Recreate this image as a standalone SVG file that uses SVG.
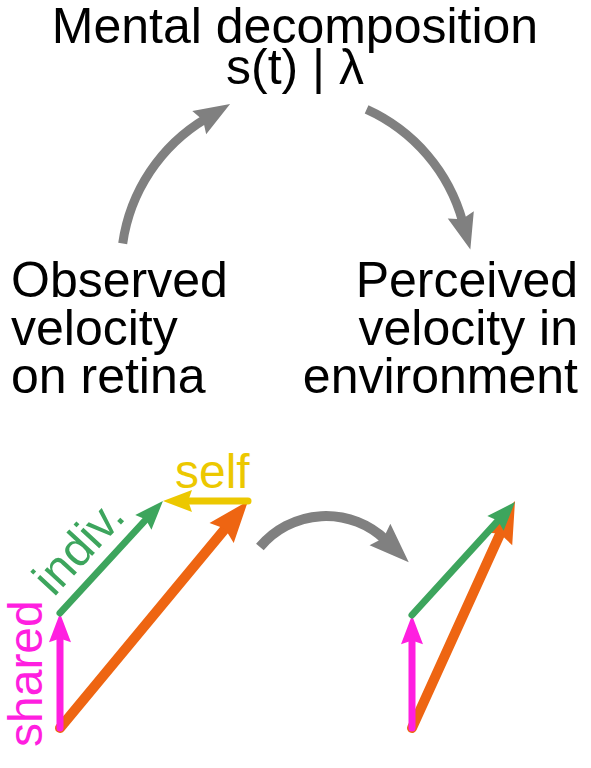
<svg xmlns="http://www.w3.org/2000/svg" width="591" height="768" viewBox="0 0 591 768">
  <style>
    text { font-family: "Liberation Sans", Arial, sans-serif; }
    .lbl { font-size: 50px; fill: #000; }
    .title { font-size: 50px; fill: #000; }
    .flow { fill: none; stroke: #808080; stroke-linecap: butt; marker-end: url(#hG); }
    .vec { fill: none; stroke-linecap: round; stroke-width: 7; }
    .mag { stroke: #ff1fe0; marker-end: url(#hM); }
    .grn { stroke: #3da55d; marker-end: url(#hGr); }
    .yel { stroke: #ecc800; marker-end: url(#hY); }
    .org { stroke: #ee6512; stroke-width: 10; marker-end: url(#hO); }
  </style>
  <defs>
    <marker id="hG" orient="auto" refX="0" refY="0" markerWidth="10" markerHeight="10" overflow="visible">
      <path d="M3.2,0 L-0.8,-1.5 L-0.3,0 L-0.8,1.5 Z" fill="#808080"/>
    </marker>
    <marker id="hM" orient="auto" refX="0" refY="0" markerWidth="10" markerHeight="10" overflow="visible">
      <path d="M3.2,0 L-0.94,-1.57 L-0.4,0 L-0.94,1.57 Z" fill="#ff1fe0"/>
    </marker>
    <marker id="hGr" orient="auto" refX="0" refY="0" markerWidth="10" markerHeight="10" overflow="visible">
      <path d="M3.2,0 L-0.94,-1.57 L-0.4,0 L-0.94,1.57 Z" fill="#3da55d"/>
    </marker>
    <marker id="hY" orient="auto" refX="0" refY="0" markerWidth="10" markerHeight="10" overflow="visible">
      <path d="M3.2,0 L-0.94,-1.57 L-0.4,0 L-0.94,1.57 Z" fill="#ecc800"/>
    </marker>
    <marker id="hO" orient="auto" refX="0" refY="0" markerWidth="10" markerHeight="10" overflow="visible">
      <path d="M3.2,0 L-0.94,-1.57 L-0.4,0 L-0.94,1.57 Z" fill="#ee6512"/>
    </marker>
  </defs>

  <g id="mental-decomposition">
    <text class="title" x="295" y="43" text-anchor="middle">Mental decomposition</text>
    <text class="title" x="295" y="84" text-anchor="middle">s(t) | λ</text>
  </g>

  <g id="observed">
    <text class="lbl" x="11" y="297">Observed</text>
    <text class="lbl" x="11" y="345">velocity</text>
    <text class="lbl" x="11" y="393">on retina</text>
  </g>

  <g id="perceived">
    <text class="lbl" x="578" y="297" text-anchor="end">Perceived</text>
    <text class="lbl" x="578" y="345" text-anchor="end">velocity in</text>
    <text class="lbl" x="578" y="393" text-anchor="end">environment</text>
  </g>

  <g id="connectors">
    <path class="flow" stroke-width="9" d="M122.7,243.5 A174,174 0 0 1 205.4,118.9"/>
    <path class="flow" stroke-width="9" d="M366.6,109.4 A174,174 0 0 1 462.7,221.8"/>
    <path class="flow" stroke-width="10" d="M259.9,547 A86,86 0 0 1 385.7,540.1"/>
  </g>

  <g id="observed-vectors">
    <line class="vec org" x1="60" y1="728" x2="227.6" y2="525.7"/>
    <line class="vec mag" x1="60" y1="728" x2="60" y2="635.6"/>
    <line class="vec grn" x1="60" y1="613" x2="147.8" y2="517.5"/>
    <line class="vec yel" x1="248" y1="501" x2="185.4" y2="501"/>
    <text x="0" y="0" font-size="48" fill="#ff1fe0" transform="translate(42,747) rotate(-90)">shared</text>
    <text x="0" y="0" font-size="48" fill="#3da55d" transform="translate(53.7,597.7) rotate(-47.4)">indiv.</text>
    <text x="175" y="488" font-size="48" fill="#ecc800">self</text>
  </g>

  <g id="perceived-vectors">
    <line class="vec org" x1="412" y1="728" x2="501.8" y2="530.1"/>
    <line class="vec mag" x1="412" y1="728" x2="412" y2="637.6"/>
    <line class="vec grn" x1="412" y1="615" x2="499.9" y2="518.6"/>
  </g>
</svg>
